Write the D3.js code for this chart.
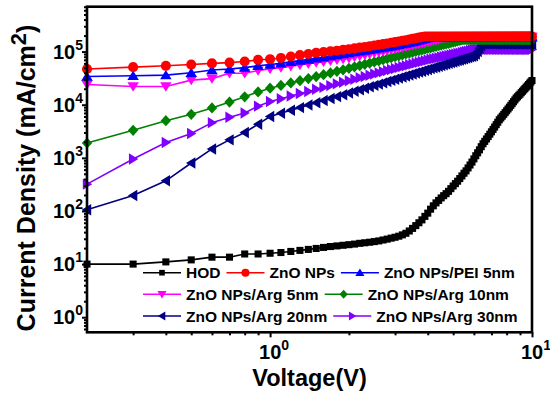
<!DOCTYPE html>
<html><head><meta charset="utf-8">
<script src="https://cdn.jsdelivr.net/npm/d3@7"></script>
<style>html,body{margin:0;padding:0;background:#fff;}svg{display:block;}</style>
</head><body><svg id="c" width="550" height="399"></svg>
<script>
const voltage = [0.2,0.3,0.4,0.5,0.6,0.7,0.8,0.9,1.0,
1.1,1.2,1.3,1.4,1.5,1.6,1.7,1.8,1.9,2.0,
2.1,2.2,2.3,2.4,2.5,2.6,2.7,2.8,2.9,3.0,
3.1,3.2,3.3,3.4,3.5,3.6,3.7,3.8,3.9,4.0,
4.1,4.2,4.3,4.4,4.5,4.6,4.7,4.8,4.9,5.0,
5.1,5.2,5.3,5.4,5.5,5.6,5.7,5.8,5.9,6.0,
6.1,6.2,6.3,6.4,6.5,6.6,6.7,6.8,6.9,7.0,
7.1,7.2,7.3,7.4,7.5,7.6,7.7,7.8,7.9,8.0,
8.1,8.2,8.3,8.4,8.5,8.6,8.7,8.8,8.9,9.0,
9.1,9.2,9.3,9.4,9.5,9.6,9.7,9.8,9.9,10.0];

const seriesNames = ["HOD","ZnO NPs","ZnO NPs/PEI 5nm","ZnO NPs/Arg 5nm","ZnO NPs/Arg 10nm","ZnO NPs/Arg 20nm","ZnO NPs/Arg 30nm"];

const hod = [10,10,11,12,13.5,13.5,15.5,15.5,16,
16.5,17.3,18.1,18.9,19.7,20.6,21.4,22.0,22.6,23.2,
23.8,24.6,25.2,25.8,26.5,27.3,28.4,29.5,30.8,32,
33.5,35.5,38,42,47,53,60,68,79,91,
108,125,142,158,176,194,212,234,263,295,
327,363,407,457,513,569,646,733,832,955,
1096,1245,1413,1622,1841,2042,2265,2512,2786,3090,
3428,3802,4217,4677,5200,5623,6081,6577,7112,7691,
8318,8995,9727,1.05e4,1.14e4,1.23e4,1.33e4,1.41e4,1.50e4,1.58e4,
1.69e4,1.79e4,1.90e4,2.01e4,2.14e4,2.26e4,2.40e4,2.55e4,2.69e4,2.85e4];

const znoNPs = [4.7e4,5.1e4,5.4e4,5.7e4,6.0e4,6.2e4,6.5e4,7.0e4,7.2e4,
7.6e4,8.1e4,8.6e4,9.0e4,9.5e4,9.8e4,1.01e5,1.04e5,1.08e5,1.11e5,
1.15e5,1.19e5,1.22e5,1.26e5,1.30e5,1.34e5,1.38e5,1.42e5,1.47e5,1.51e5,
1.55e5,1.60e5,1.64e5,1.69e5,1.74e5,1.78e5,1.83e5,1.88e5,1.92e5,1.92e5,
1.92e5,1.92e5,1.92e5,1.92e5,1.92e5,1.92e5,1.92e5,1.92e5,1.92e5,1.92e5,
1.92e5,1.92e5,1.92e5,1.92e5,1.92e5,1.92e5,1.92e5,1.92e5,1.92e5,1.92e5,
1.92e5,1.92e5,1.92e5,1.92e5,1.92e5,1.92e5,1.92e5,1.92e5,1.92e5,1.92e5,
1.92e5,1.92e5,1.92e5,1.92e5,1.92e5,1.92e5,1.92e5,1.92e5,1.92e5,1.92e5,
1.92e5,1.92e5,1.92e5,1.92e5,1.92e5,1.92e5,1.92e5,1.92e5,1.92e5,1.92e5,
1.92e5,1.92e5,1.92e5,1.92e5,1.92e5,1.92e5,1.92e5,1.92e5,1.92e5,1.92e5];

const pei5 = [3.4e4,3.5e4,3.6e4,4.0e4,4.5e4,4.7e4,5.0e4,5.4e4,5.7e4,
6.0e4,6.4e4,6.8e4,7.1e4,7.5e4,7.8e4,8.2e4,8.6e4,9.0e4,9.4e4,
9.8e4,1.01e5,1.05e5,1.08e5,1.12e5,1.15e5,1.19e5,1.23e5,1.26e5,1.30e5,
1.34e5,1.38e5,1.42e5,1.47e5,1.51e5,1.56e5,1.62e5,1.68e5,1.74e5,1.80e5,
1.83e5,1.85e5,1.85e5,1.85e5,1.85e5,1.85e5,1.85e5,1.85e5,1.85e5,1.85e5,
1.85e5,1.85e5,1.85e5,1.85e5,1.85e5,1.85e5,1.85e5,1.85e5,1.85e5,1.85e5,
1.85e5,1.85e5,1.85e5,1.85e5,1.85e5,1.85e5,1.85e5,1.85e5,1.85e5,1.85e5,
1.85e5,1.85e5,1.85e5,1.85e5,1.85e5,1.85e5,1.85e5,1.85e5,1.85e5,1.85e5,
1.85e5,1.85e5,1.85e5,1.85e5,1.85e5,1.85e5,1.85e5,1.85e5,1.85e5,1.85e5,
1.85e5,1.85e5,1.85e5,1.85e5,1.85e5,1.85e5,1.85e5,1.85e5,1.85e5,1.85e5];

const arg5 = [2.4e4,2.2e4,2.2e4,2.9e4,3.1e4,3.9e4,3.9e4,4.4e4,4.7e4,
5.0e4,5.3e4,5.6e4,5.9e4,6.2e4,6.4e4,6.7e4,7.0e4,7.2e4,7.5e4,
7.9e4,8.2e4,8.6e4,9.0e4,9.4e4,9.7e4,1.00e5,1.04e5,1.08e5,1.11e5,
1.15e5,1.18e5,1.22e5,1.26e5,1.30e5,1.34e5,1.38e5,1.42e5,1.46e5,1.50e5,
1.55e5,1.60e5,1.64e5,1.69e5,1.74e5,1.78e5,1.82e5,1.86e5,1.88e5,1.88e5,
1.88e5,1.88e5,1.88e5,1.88e5,1.88e5,1.88e5,1.88e5,1.88e5,1.88e5,1.88e5,
1.88e5,1.88e5,1.88e5,1.88e5,1.88e5,1.88e5,1.88e5,1.88e5,1.88e5,1.88e5,
1.88e5,1.88e5,1.88e5,1.88e5,1.88e5,1.88e5,1.88e5,1.88e5,1.88e5,1.88e5,
1.88e5,1.88e5,1.88e5,1.88e5,1.88e5,1.88e5,1.88e5,1.88e5,1.88e5,1.88e5,
1.88e5,1.88e5,1.88e5,1.88e5,1.88e5,1.88e5,1.88e5,1.88e5,1.88e5,1.88e5];

const arg10 = [1.9e3,3.3e3,5.0e3,6.6e3,8.7e3,1.12e4,1.41e4,1.74e4,2.05e4,
2.31e4,2.57e4,2.84e4,3.11e4,3.39e4,3.67e4,3.96e4,4.25e4,4.54e4,4.84e4,
5.14e4,5.45e4,5.76e4,6.07e4,6.39e4,6.70e4,7.03e4,7.35e4,7.68e4,8.01e4,
8.34e4,8.67e4,9.01e4,9.35e4,9.69e4,1.004e5,1.038e5,1.073e5,1.108e5,1.144e5,
1.179e5,1.215e5,1.251e5,1.287e5,1.324e5,1.360e5,1.397e5,1.434e5,1.471e5,1.508e5,
1.546e5,1.583e5,1.621e5,1.659e5,1.68e5,1.68e5,1.68e5,1.68e5,1.68e5,1.68e5,
1.68e5,1.68e5,1.68e5,1.68e5,1.68e5,1.68e5,1.68e5,1.68e5,1.68e5,1.68e5,
1.68e5,1.68e5,1.68e5,1.68e5,1.68e5,1.68e5,1.68e5,1.68e5,1.68e5,1.68e5,
1.68e5,1.68e5,1.68e5,1.68e5,1.68e5,1.68e5,1.68e5,1.68e5,1.68e5,1.68e5,
1.68e5,1.68e5,1.68e5,1.68e5,1.68e5,1.68e5,1.68e5,1.68e5,1.68e5,1.68e5];

const arg20 = [1.05e2,1.95e2,3.7e2,8.0e2,1.47e3,2.18e3,3.0e3,4.3e3,6.0e3,
6.90e3,7.84e3,8.82e3,9.84e3,1.09e4,1.20e4,1.31e4,1.42e4,1.54e4,1.66e4,
1.79e4,1.91e4,2.04e4,2.17e4,2.31e4,2.44e4,2.58e4,2.73e4,2.87e4,3.02e4,
3.17e4,3.32e4,3.47e4,3.63e4,3.78e4,3.94e4,4.11e4,4.27e4,4.44e4,4.61e4,
4.78e4,4.95e4,5.12e4,5.30e4,5.48e4,5.66e4,5.84e4,6.02e4,6.21e4,6.39e4,
6.58e4,6.77e4,6.96e4,7.16e4,7.35e4,7.55e4,7.75e4,7.95e4,8.15e4,8.36e4,
9.0e4,1.0e5,1.15e5,1.3e5,1.4e5,1.4e5,1.4e5,1.4e5,1.4e5,1.4e5,
1.4e5,1.4e5,1.4e5,1.4e5,1.4e5,1.4e5,1.4e5,1.4e5,1.4e5,1.4e5,
1.4e5,1.4e5,1.4e5,1.4e5,1.4e5,1.4e5,1.4e5,1.4e5,1.4e5,1.4e5,
1.4e5,1.4e5,1.4e5,1.4e5,1.4e5,1.4e5,1.4e5,1.4e5,1.4e5,1.4e5];

const arg30 = [3.2e2,9.5e2,1.94e3,2.87e3,4.6e3,5.8e3,7.0e3,9.4e3,1.15e4,
1.30e4,1.46e4,1.62e4,1.78e4,1.95e4,2.12e4,2.29e4,2.47e4,2.65e4,2.83e4,
3.02e4,3.21e4,3.40e4,3.59e4,3.78e4,3.98e4,4.18e4,4.39e4,4.59e4,4.80e4,
5.01e4,5.22e4,5.43e4,5.64e4,5.86e4,6.08e4,6.30e4,6.52e4,6.75e4,6.97e4,
7.15e4,7.34e4,7.52e4,7.70e4,7.89e4,8.07e4,8.26e4,8.44e4,8.63e4,8.81e4,
9.00e4,9.18e4,9.37e4,9.6e4,9.8e4,1.0e5,1.02e5,1.05e5,1.07e5,1.1e5,
1.1e5,1.1e5,1.1e5,1.1e5,1.1e5,1.1e5,1.1e5,1.1e5,1.1e5,1.1e5,
1.1e5,1.1e5,1.1e5,1.1e5,1.1e5,1.1e5,1.1e5,1.1e5,1.1e5,1.1e5,
1.1e5,1.1e5,1.1e5,1.1e5,1.1e5,1.1e5,1.1e5,1.1e5,1.1e5,1.1e5,
1.1e5,1.1e5,1.1e5,1.1e5,1.1e5,1.1e5,1.1e5,1.1e5,1.1e5,1.1e5];

const yMajorTicks = [1e0,1e1,1e2,1e3,1e4,1e5];
const yTickExponents = ["0","1","2","3","4","5"];
const xMajorTicks = [1,10];
const xTickExponents = ["0","1"];

const seriesValues = [hod, znoNPs, pei5, arg5, arg10, arg20, arg30];
const seriesColors = ["#000000","#ff0000","#0000ff","#ff00ff","#008000","#000080","#8000ff"];
const seriesSymbols = ["square","circle","triUp","triDown","diamond","triLeft","triRight"];

const FONT = "'Liberation Sans', Arial, sans-serif";
const svg = d3.select("#c");
const L = 87, R = 532, T = 6.7, B = 332.3;
const x = d3.scaleLog().domain([0.2, 10]).range([L, R]);
const y = d3.scaleLog().domain([0.52, 7e5]).range([B, T]);

function symbolPath(kind, s) {
  s = s || 1;
  if (kind === "square") return d3.symbol(d3.symbolSquare, 50 * s * s)();
  if (kind === "circle") return d3.symbol(d3.symbolCircle, 80 * s * s)();
  if (kind === "diamond") { const a = 5.6 * s, b = 5.2 * s;
    return `M0,${-a}L${b},0L0,${a}L${-b},0Z`; }
  // triangle with side ~11
  const h = 5.2 * s;
  return `M0,${-h}L${h * 1.1},${h * 0.8}L${-h * 1.1},${h * 0.8}Z`;
}
function symbolRot(kind) {
  return {triDown: 180, triLeft: -90, triRight: 90}[kind] || 0;
}

// series (drawn last legend entry first)
const drawOrder = [6,5,4,3,2,1,0];
const line = d3.line().x((d) => x(d[0])).y((d) => y(d[1]));
drawOrder.forEach((si) => {
  const pts = voltage.map((v, i) => [v, seriesValues[si][i]]);
  const g = svg.append("g");
  g.append("path").attr("d", line(pts)).attr("fill", "none")
    .attr("stroke", seriesColors[si]).attr("stroke-width", 1.6);
  g.selectAll("path.m").data(pts).enter().append("path").attr("class", "m")
    .attr("d", symbolPath(seriesSymbols[si]))
    .attr("transform", (d) => `translate(${x(d[0])},${y(d[1])}) rotate(${symbolRot(seriesSymbols[si])})`)
    .attr("fill", seriesColors[si]);
});

// axes
const yMinor = [];
for (let e = -1; e <= 5; e++) for (let m = 2; m <= 9; m++) {
  const v = m * Math.pow(10, e);
  if (v >= 0.52 && v <= 7e5) yMinor.push(v);
}
const xMinor = [0.3,0.4,0.5,0.6,0.7,0.8,0.9,2,3,4,5,6,7,8,9];

function styleAxis(g) {
  g.select(".domain").remove();
  g.selectAll(".tick line").attr("stroke", "#000").attr("stroke-width", 2);
}
svg.append("g").attr("transform", `translate(${L},0)`)
  .call(d3.axisLeft(y).tickValues(yMinor).tickSize(3).tickFormat(() => "")).call(styleAxis);
svg.append("g").attr("transform", `translate(${L},0)`)
  .call(d3.axisLeft(y).tickValues(yMajorTicks).tickSize(5).tickFormat(() => "")).call(styleAxis);
svg.append("g").attr("transform", `translate(0,${B})`)
  .call(d3.axisBottom(x).tickValues(xMinor).tickSize(3).tickFormat(() => "")).call(styleAxis);
svg.append("g").attr("transform", `translate(0,${B})`)
  .call(d3.axisBottom(x).tickValues(xMajorTicks).tickSize(5).tickFormat(() => "")).call(styleAxis);

svg.append("rect").attr("x", L).attr("y", T).attr("width", R - L).attr("height", B - T)
  .attr("fill", "none").attr("stroke", "#000").attr("stroke-width", 2.6);

// tick labels
yMajorTicks.forEach((v, i) => {
  const t = svg.append("text").attr("x", 83).attr("y", y(v) + 7)
    .attr("text-anchor", "end").attr("font-family", FONT).attr("font-weight", "bold")
    .attr("font-size", 20).attr("fill", "#000");
  t.append("tspan").text("10");
  t.append("tspan").attr("dy", -9).attr("font-size", 14).text(yTickExponents[i]);
});
xMajorTicks.forEach((v, i) => {
  const t = svg.append("text").attr("x", x(v) + 4).attr("y", 359)
    .attr("text-anchor", "middle").attr("font-family", FONT).attr("font-weight", "bold")
    .attr("font-size", 20).attr("fill", "#000");
  t.append("tspan").text("10");
  t.append("tspan").attr("dy", -9).attr("font-size", 14).text(xTickExponents[i]);
});

// axis titles
svg.append("text").attr("x", (L + R) / 2).attr("y", 386)
  .attr("text-anchor", "middle").attr("font-family", FONT).attr("font-weight", "bold")
  .attr("font-size", 23.5).attr("fill", "#000").text("Voltage(V)");
const yt = svg.append("text").attr("transform", "translate(35,178) rotate(-90)")
  .attr("text-anchor", "middle").attr("font-family", FONT).attr("font-weight", "bold")
  .attr("font-size", 25).attr("fill", "#000");
yt.append("tspan").text("Current Density (mA/cm");
yt.append("tspan").attr("dy", -9).attr("font-size", 22).text("2");
yt.append("tspan").attr("dy", 9).text(")");

// legend
const legendRows = [[0,1,2],[3,4],[5,6]];
const legendRowY = [272.7, 294.3, 316];
const legend = svg.append("g");
legendRows.forEach((row, ri) => {
  let cx = 143;
  row.forEach((si) => {
    const cy = legendRowY[ri];
    legend.append("line").attr("x1", cx).attr("x2", cx + 38).attr("y1", cy).attr("y2", cy)
      .attr("stroke", seriesColors[si]).attr("stroke-width", 1.6);
    legend.append("path").attr("d", symbolPath(seriesSymbols[si], 0.8))
      .attr("transform", `translate(${cx + 19},${cy}) rotate(${symbolRot(seriesSymbols[si])})`)
      .attr("fill", seriesColors[si]);
    const t = legend.append("text").attr("x", cx + 43).attr("y", cy + 5.5)
      .attr("font-family", FONT).attr("font-weight", "bold").attr("font-size", 15.5)
      .attr("fill", "#000").text(seriesNames[si]);
    cx += 43 + t.node().getComputedTextLength() + 6;
  });
});
</script></body></html>
